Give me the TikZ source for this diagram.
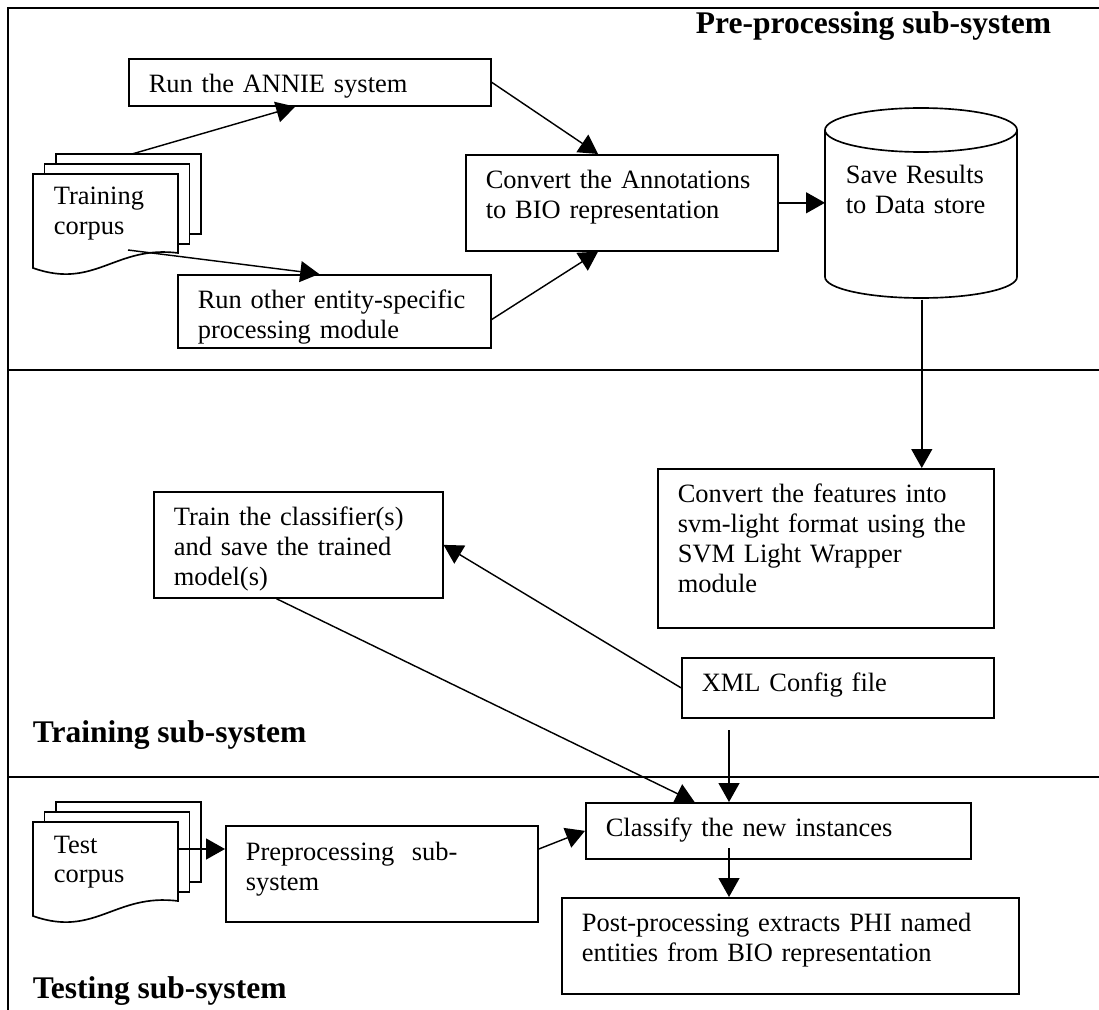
\documentclass[tikz,border=0pt]{standalone}
\usepackage{fontspec}
\setmainfont{Liberation Serif}
\usetikzlibrary{arrows.meta}

\begin{document}
\begin{tikzpicture}[x=0.4536pt, y=-0.4536pt, line width=0.75pt,
    font=\fontsize{12}{13.6}\selectfont,
    box/.style={draw, anchor=north west, align=left, inner xsep=9.07pt,
      inner ysep=0pt, text height=15.42pt},
    doctext/.style={anchor=base west, align=left, text width=55pt, inner sep=0pt},
    title/.style={font=\fontsize{14.3}{16}\selectfont\bfseries, inner sep=0pt},
    page/.style={draw, fill=white},
    arr/.style={line width=0.65pt, -{Triangle[length=8.6pt,width=9.5pt]}}]
  \useasboundingbox (0,0) rectangle (1099,1010);

  % frame and the three sub-systems
  \draw (1099,8) -- (8,8) -- (8,1010);
  \draw (8,370) -- (1099,370);
  \draw (8,777) -- (1099,777);
  \node[title, anchor=base east] (pretitle) at (1052,34) {Pre-processing sub-system};
  \node[title, anchor=base west] (traintitle) at (32,742) {Training sub-system};
  \node[title, anchor=base west] (testtitle) at (32,998) {Testing sub-system};

  % corpora
  \foreach \ytop/\nm/\word in {174/train/Training, 822/test/Test}{
    \begin{scope}[shift={(33,\ytop)}]
      \foreach \d in {2,1}
        \draw[page] (11.5*\d,-10*\d) rectangle ++(145,80);
      \draw[page] (0,0) -- (145,0) -- (145,79)
        .. controls (82,71) and (62,116) .. (0,94) -- cycle;
      \node[doctext] (\nm-corpus) at (20,31) {\word\\corpus};
    \end{scope}
  }
  \coordinate (traintop) at (132,154);
  \coordinate (trainlow) at (128,250);
  \coordinate (testright) at (178,849);

  % pre-processing
  \node[box, text width=146.1pt, text depth=5.9pt] (annie) at (128,58)
    {Run the ANNIE system};
  \node[box, text width=123.8pt, text depth=17.7pt] (entity) at (177,274)
    {Run other entity-specific\\processing module};
  \node[box, text width=123.4pt, text depth=28.1pt] (convert) at (465,154)
    {Convert the Annotations\\to BIO representation};
  \draw (825,130) -- (825,277) arc[start angle=180, end angle=0,
    x radius=96, y radius=21] -- (1017,130);
  \draw (921,130) ellipse[x radius=96, y radius=22];
  \node[box, draw=none, text height=34pt, text depth=52.2pt, text width=68.9pt]
    (store) at (825,108) {Save Results\\to Data store};

  % training
  \node[box, text width=134.3pt, text depth=56.7pt] (svm) at (657,468)
    {Convert the features into\\svm-light format using the\\SVM Light Wrapper\\module};
  \node[box, text width=112.9pt, text depth=32.7pt] (train) at (153,491)
    {Train the classifier(s)\\and save the trained\\model(s)};
  \node[box, text width=123.4pt, text depth=11.8pt] (xml) at (681,657)
    {XML Config file};
  \coordinate (xmlfoot) at (729,730);

  % testing
  \node[box, text width=123.4pt, text depth=27.7pt, text height=15.9pt] (prep) at (225,825)
    {Preprocessing\ \ sub-\\system};
  \node[box, text width=156.5pt, text depth=10pt] (classify) at (585,802)
    {Classify the new instances};
  \node[box, text width=189.2pt, text depth=28.1pt] (post) at (561,897)
    {Post-processing extracts PHI named\\entities from BIO representation};
  \coordinate (classout) at (729,848);

  % connectors
  \draw[arr] (traintop) -- (annie.-121);
  \draw[arr] (trainlow) -- (entity.112);
  \draw[arr] (annie.east) -- (convert.116);
  \draw[arr] (entity.-3) -- (convert.-116);
  \draw[arr] (convert.east) -- (convert.east -| store.west);
  \draw[arr] (store.south) -- (store.south |- svm.north);
  \draw[arr] (xml.west) -- (train.east);
  \draw[arr] (train.-112) -- (classify.161);
  \draw[arr] (xmlfoot) -- (xmlfoot |- classify.north);
  \draw[arr] (testright) -- (testright -| prep.west);
  \draw[arr] (prep.9) -- (classify.west);
  \draw[arr] (classout) -- (classout |- post.north);
\end{tikzpicture}
\end{document}
